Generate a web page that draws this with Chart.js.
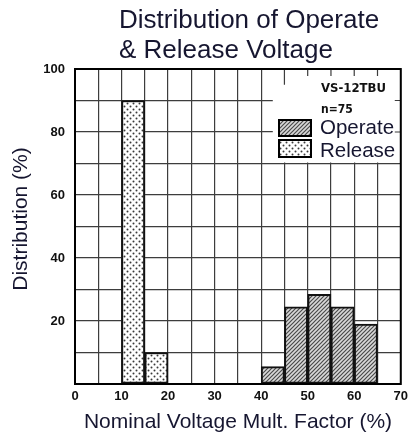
<!DOCTYPE html>
<html>
<head>
<meta charset="utf-8">
<script src="https://cdn.jsdelivr.net/npm/chart.js@4/dist/chart.umd.min.js"></script>
<style>
  html, body { margin: 0; padding: 0; background: #fff; }
  canvas { display: block; }
</style>
</head>
<body>
<canvas id="chart" width="413" height="436"></canvas>
<script>
// Histogram bins (left edges, % of nominal voltage) and share of samples (%)
const binWidth = 5;
const operateBins = [40, 45, 50, 55, 60];
const operateValues = [5.5, 24.5, 28.5, 24.5, 19];
const releaseBins = [10, 15];
const releaseValues = [90, 10];

const xTickLabels = [0, 10, 20, 30, 40, 50, 60, 70];
const yTickLabels = [20, 40, 60, 80, 100];

const seriesNames = ['Operate', 'Release'];
const titleLines = ['Distribution of Operate', '& Release Voltage'];
const xTitle = 'Nominal Voltage Mult. Factor (%)';
const yTitle = 'Distribution (%)';
const noteLines = ['VS-12TBU', 'n=75'];

// Fill patterns: diagonal hatching and stipple dots
function hatchPattern() {
  const c = document.createElement('canvas');
  c.width = 4; c.height = 4;
  const g = c.getContext('2d');
  g.fillStyle = '#d9d9d9';
  g.fillRect(0, 0, 4, 4);
  g.strokeStyle = '#4a4a4a';
  g.lineWidth = 1.2;
  g.beginPath();
  g.moveTo(-1, 5); g.lineTo(5, -1);
  g.moveTo(-1, 1); g.lineTo(1, -1);
  g.moveTo(3, 5); g.lineTo(5, 3);
  g.stroke();
  return g.createPattern(c, 'repeat');
}
function dotPattern() {
  const c = document.createElement('canvas');
  c.width = 6; c.height = 6;
  const g = c.getContext('2d');
  g.fillStyle = '#ffffff';
  g.fillRect(0, 0, 6, 6);
  g.fillStyle = '#3a3a3a';
  [[1.5, 1.5], [4.5, 4.5]].forEach(([px, py]) => {
    g.beginPath();
    g.arc(px, py, 1, 0, Math.PI * 2);
    g.fill();
  });
  return g.createPattern(c, 'repeat');
}

const hatch = hatchPattern();
const dots = dotPattern();

const toPoints = (bins, vals) => bins.map((b, i) => ({ x: b + binWidth / 2, y: vals[i] }));

const textColor = '#161630';
const tickFont = { family: "'Liberation Sans', Arial, sans-serif", size: 13, weight: 'bold' };

const decor = {
  id: 'decor',
  beforeDatasetsDraw(chart) {
    const { ctx, chartArea: a, scales: { x, y } } = chart;
    // open area of the grid that holds the key
    const x0 = x.getPixelForValue(42.5);
    const y0 = y.getPixelForValue(70);
    ctx.save();
    ctx.fillStyle = '#fff';
    ctx.fillRect(x0, a.top, a.right - x0, y0 - a.top - 1);
    ctx.strokeStyle = '#3d3d3d';
    ctx.lineWidth = 1.2;
    ctx.beginPath();
    [45, 50, 55, 60, 65].forEach(v => {
      const px = x.getPixelForValue(v);
      ctx.moveTo(px, a.top);
      ctx.lineTo(px, v === 45 ? y.getPixelForValue(95) : a.top + 7);
    });
    [80, 90].forEach(v => {
      const py = y.getPixelForValue(v);
      ctx.moveTo(a.right, py);
      ctx.lineTo(a.right - 6, py);
    });
    ctx.stroke();
    ctx.restore();
  },
  afterDatasetsDraw(chart) {
    const { ctx, chartArea: a } = chart;
    ctx.save();
    // plot frame
    ctx.strokeStyle = '#000';
    ctx.lineWidth = 2;
    ctx.strokeRect(a.left, a.top, a.right - a.left, a.bottom - a.top);

    // key
    const fills = [hatch, dots];
    const boxes = [[279, 120, 32, 16], [279, 140, 32, 17]];
    const bases = [134, 157];
    seriesNames.forEach((name, i) => {
      const [bx, by, bw, bh] = boxes[i];
      ctx.fillStyle = fills[i];
      ctx.fillRect(bx, by, bw, bh);
      ctx.strokeStyle = '#000';
      ctx.lineWidth = 2;
      ctx.strokeRect(bx, by, bw, bh);
      ctx.fillStyle = textColor;
      ctx.font = "20.5px 'Liberation Sans', Arial, sans-serif";
      ctx.textAlign = 'left';
      ctx.textBaseline = 'alphabetic';
      ctx.fillText(name, 320, bases[i]);
    });
    ctx.fillStyle = '#111';
    ctx.font = "bold 13px 'DejaVu Sans Condensed', 'DejaVu Sans', sans-serif";
    ctx.fillText(noteLines[0], 321, 92);
    ctx.font = "bold 12px 'DejaVu Sans Condensed', 'DejaVu Sans', sans-serif";
    ctx.fillText(noteLines[1], 321, 113);
    ctx.restore();
  },
  afterDraw(chart) {
    const { ctx } = chart;
    ctx.save();
    ctx.fillStyle = textColor;
    ctx.textBaseline = 'alphabetic';
    ctx.font = "26px 'Liberation Sans', Arial, sans-serif";
    ctx.textAlign = 'left';
    ctx.fillText(titleLines[0], 119, 28);
    ctx.fillText(titleLines[1], 119, 58);
    ctx.font = "21px 'Liberation Sans', Arial, sans-serif";
    ctx.textAlign = 'center';
    ctx.fillText(xTitle, 238, 428);
    ctx.translate(27, 219);
    ctx.rotate(-Math.PI / 2);
    ctx.fillText(yTitle, 0, 0);
    ctx.restore();
  }
};

new Chart(document.getElementById('chart'), {
  type: 'bar',
  data: {
    datasets: [
      {
        label: seriesNames[0],
        data: toPoints(operateBins, operateValues),
        backgroundColor: hatch,
        borderColor: '#111',
        borderWidth: 2,
        borderSkipped: false,
        grouped: false,
        barPercentage: 1,
        categoryPercentage: 1
      },
      {
        label: seriesNames[1],
        data: toPoints(releaseBins, releaseValues),
        backgroundColor: dots,
        borderColor: '#111',
        borderWidth: 2,
        borderSkipped: false,
        grouped: false,
        barPercentage: 1,
        categoryPercentage: 1
      }
    ]
  },
  options: {
    responsive: false,
    animation: false,
    events: [],
    layout: { padding: { top: 69, right: 10, left: 0, bottom: 0 } },
    plugins: {
      legend: { display: false },
      title: { display: false },
      tooltip: { enabled: false }
    },
    scales: {
      x: {
        type: 'linear',
        min: 0,
        max: 70,
        offset: false,
        grid: { offset: false, color: '#3d3d3d', lineWidth: 1.2, drawTicks: false },
        border: { display: false },
        ticks: {
          stepSize: 5,
          autoSkip: false,
          maxRotation: 0,
          padding: 5,
          color: '#111',
          font: tickFont,
          callback: v => xTickLabels.includes(v) ? String(v) : ''
        },
        afterFit: s => { s.height = 52; }
      },
      y: {
        min: 0,
        max: 100,
        grid: { color: '#3d3d3d', lineWidth: 1.2, drawTicks: false },
        border: { display: false },
        ticks: {
          stepSize: 10,
          autoSkip: false,
          padding: 10,
          color: '#111',
          font: tickFont,
          callback: v => yTickLabels.includes(v) ? String(v) : ''
        },
        afterFit: s => { s.width = 75; }
      }
    }
  },
  plugins: [decor]
});
</script>
</body>
</html>
